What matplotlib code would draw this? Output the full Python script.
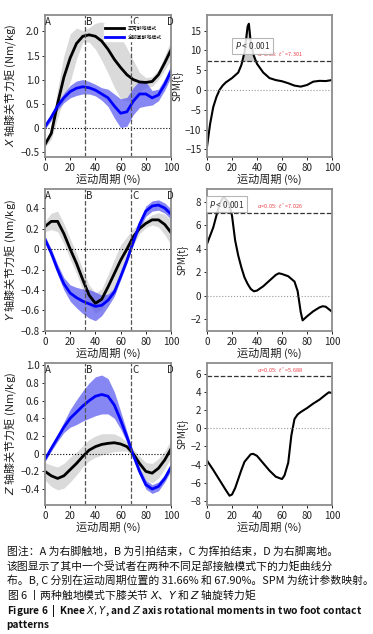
import numpy as np
import matplotlib
matplotlib.use("Agg")
import matplotlib.pyplot as plt
from matplotlib.ticker import FuncFormatter

plt.rcParams['font.family'] = ['Noto Sans CJK SC', 'DejaVu Sans']
plt.rcParams['axes.unicode_minus'] = True
plt.rcParams['mathtext.fontset'] = 'dejavusans'

# cycle position (%)
pct = [0, 5, 10, 15, 20, 25, 30, 35, 40, 45, 50, 55, 60, 65, 70, 75, 80, 85, 90, 95, 100]
event_b = 31.66
event_c = 67.90
labels = ["正常触地模式", "全脚掌触地模式"]

# X axis moment (Nm/kg)
x_normal = [-0.35, -0.12, 0.5, 1.05, 1.45, 1.75, 1.9, 1.93, 1.9, 1.8, 1.63, 1.42, 1.25, 1.1, 1.0, 0.95, 0.94, 0.96, 1.1, 1.35, 1.62]
x_normal_sd = [0.05, 0.12, 0.3, 0.45, 0.5, 0.32, 0.12, 0.15, 0.27, 0.4, 0.5, 0.58, 0.65, 0.55, 0.4, 0.2, 0.1, 0.1, 0.1, 0.15, 0.2]
x_full = [0.02, 0.22, 0.45, 0.62, 0.75, 0.82, 0.85, 0.83, 0.78, 0.7, 0.62, 0.45, 0.3, 0.33, 0.55, 0.7, 0.7, 0.62, 0.68, 0.9, 1.18]
x_full_sd = [0.05, 0.07, 0.08, 0.1, 0.13, 0.15, 0.15, 0.13, 0.12, 0.13, 0.18, 0.25, 0.3, 0.3, 0.28, 0.28, 0.25, 0.15, 0.12, 0.12, 0.12]

# Y axis moment
y_normal = [0.22, 0.27, 0.27, 0.15, 0.0, -0.14, -0.3, -0.45, -0.53, -0.49, -0.37, -0.24, -0.11, 0.0, 0.12, 0.2, 0.25, 0.285, 0.285, 0.24, 0.16]
y_normal_sd = [0.05, 0.08, 0.1, 0.1, 0.1, 0.1, 0.1, 0.1, 0.1, 0.1, 0.12, 0.14, 0.15, 0.12, 0.08, 0.05, 0.04, 0.05, 0.07, 0.1, 0.12]
y_full = [0.095, -0.04, -0.2, -0.34, -0.43, -0.475, -0.51, -0.535, -0.56, -0.55, -0.5, -0.42, -0.27, -0.11, 0.07, 0.24, 0.37, 0.42, 0.43, 0.4, 0.34]
y_full_sd = [0.03, 0.04, 0.05, 0.06, 0.08, 0.1, 0.12, 0.14, 0.14, 0.1, 0.06, 0.04, 0.03, 0.03, 0.03, 0.04, 0.05, 0.05, 0.05, 0.05, 0.05]

# Z axis moment
z_normal = [-0.2, -0.25, -0.28, -0.25, -0.18, -0.11, -0.03, 0.04, 0.08, 0.105, 0.117, 0.124, 0.11, 0.08, 0.0, -0.11, -0.2, -0.22, -0.165, -0.07, 0.056]
z_normal_sd = [0.1, 0.12, 0.13, 0.14, 0.14, 0.13, 0.12, 0.12, 0.12, 0.12, 0.11, 0.1, 0.08, 0.05, 0.05, 0.08, 0.1, 0.11, 0.11, 0.1, 0.1]
z_full = [-0.065, 0.06, 0.18, 0.3, 0.4, 0.47, 0.54, 0.6, 0.65, 0.67, 0.65, 0.55, 0.38, 0.19, -0.015, -0.2, -0.35, -0.4, -0.37, -0.28, -0.15]
z_full_sd = [0.02, 0.03, 0.04, 0.06, 0.1, 0.14, 0.17, 0.2, 0.22, 0.22, 0.2, 0.15, 0.1, 0.06, 0.03, 0.04, 0.05, 0.05, 0.05, 0.04, 0.04]

# SPM{t}
spm_x_pct = [0, 2.5, 5, 7.5, 10, 12.5, 15, 20, 25, 27.5, 30, 32.5, 33.5, 35, 37.5, 40, 45, 50, 55, 60, 65, 70, 75, 80, 85, 90, 95, 100]
spm_x = [-14.3, -8.5, -4.3, -1.8, 0.0, 1.1, 1.9, 3.0, 4.4, 6.3, 9.5, 16.0, 16.7, 12.0, 8.6, 6.6, 4.4, 3.0, 2.5, 2.2, 1.7, 1.1, 0.85, 1.25, 2.1, 2.3, 2.25, 2.5]
spm_y_pct = [0, 2.5, 5, 7.5, 10, 12.5, 14, 15, 17.5, 20, 22.5, 25, 27.5, 30, 32.5, 35, 37.5, 40, 45, 50, 55, 57.5, 60, 65, 70, 72.5, 75, 76.5, 80, 85, 90, 92.5, 95, 100]
spm_y = [4.4, 5.1, 5.8, 6.8, 7.8, 8.3, 8.35, 8.2, 7.9, 6.8, 4.7, 3.4, 2.4, 1.55, 1.0, 0.57, 0.37, 0.43, 0.8, 1.28, 1.76, 1.9, 1.84, 1.65, 1.2, 0.4, -1.4, -2.1, -1.76, -1.33, -1.0, -0.9, -0.94, -1.36]
spm_z_pct = [0, 5, 10, 15, 18, 20, 22.5, 25, 27.5, 30, 35, 37, 40, 45, 50, 55, 60, 62, 65, 67.5, 70, 72.5, 75, 80, 85, 90, 95, 97.5, 100]
spm_z = [-3.57, -4.6, -5.7, -6.8, -7.43, -7.3, -6.6, -5.6, -4.6, -3.7, -2.87, -2.83, -3.05, -3.86, -4.67, -5.34, -5.6, -5.2, -3.8, -0.8, 1.0, 1.5, 1.77, 2.2, 2.7, 3.13, 3.68, 3.94, 3.86]
thresholds = [7.301, 7.026, 5.688]
alpha_txt = ["0.05", "0.05", "0.05"]

axis_names = ["X", "Y", "Z"]
left_ylims = [(-0.61, 2.35), (-0.8, 0.59), (-0.58, 1.03)]
left_yticks = [[-0.5, 0, 0.5, 1.0, 1.5, 2.0],
               [-0.8, -0.6, -0.4, -0.2, 0, 0.2, 0.4],
               [-0.4, -0.2, 0, 0.2, 0.4, 0.6, 0.8, 1.0]]
right_ylims = [(-16.9, 19.0), (-3.0, 9.1), (-8.45, 7.2)]
right_yticks = [[-15, -10, -5, 0, 5, 10, 15], [-2, 0, 2, 4, 6, 8], [-8, -6, -4, -2, 0, 2, 4, 6]]

means = [(x_normal, x_normal_sd, x_full, x_full_sd),
         (y_normal, y_normal_sd, y_full, y_full_sd),
         (z_normal, z_normal_sd, z_full, z_full_sd)]
spms = [(spm_x_pct, spm_x), (spm_y_pct, spm_y), (spm_z_pct, spm_z)]

fig = plt.figure(figsize=(3.73, 6.34), dpi=100)
rows_bottom = [0.7524, 0.478, 0.2035]
row_h = 0.2245
frame_col = "#8c8c8c"


def fmt_left(v, pos):
    if abs(v) < 1e-9:
        return "0"
    return ("%.1f" % v).replace("-", "\u2212")


def style(ax):
    for s in ax.spines.values():
        s.set_color(frame_col)
        s.set_linewidth(1.3)
    ax.tick_params(labelsize=7, length=2.5, width=0.7, pad=1.5, colors="#222222")
    ax.set_xlim(0, 100)
    ax.set_xticks([0, 20, 40, 60, 80, 100])
    ax.set_xlabel("运动周期 (%)", fontsize=8, labelpad=1, color="#222222")


for i in range(3):
    p = np.array(pct)
    m1, s1, m2, s2 = [np.array(a) for a in means[i]]

    ax = fig.add_axes([0.1206, rows_bottom[i], 0.338, row_h])
    style(ax)
    ax.fill_between(p, m1 - s1, m1 + s1, color="#d4d4d4", alpha=0.85, lw=0)
    ax.fill_between(p, m2 - s2, m2 + s2, color="#5555f0", alpha=0.7, lw=0)
    ax.plot(p, m1, color="black", lw=2, label=labels[0])
    ax.plot(p, m2, color="#0000ff", lw=2, label=labels[1])
    ax.axhline(0, color="black", ls=":", lw=0.8)
    ax.axvline(event_b, color="#555555", ls="--", lw=0.9)
    ax.axvline(event_c, color="#555555", ls="--", lw=0.9)
    ax.set_ylim(*left_ylims[i])
    ax.set_yticks(left_yticks[i])
    ax.yaxis.set_major_formatter(FuncFormatter(fmt_left))
    for lab, xp in zip(["A", "B", "C", "D"], [0.3, event_b + 1.2, event_c + 1.2, 96.5]):
        ax.text(xp, 0.985, lab, transform=ax.get_xaxis_transform(), fontsize=7,
                va="top", ha="left", color="#222222")
    ax.set_ylabel("$%s$ 轴膝关节力矩 (Nm/kg)" % axis_names[i], fontsize=8, labelpad=2, color="#222222")
    if i == 0:
        ax.legend(loc="upper right", bbox_to_anchor=(0.96, 0.95), fontsize=3.5, frameon=True,
                  edgecolor="white", framealpha=1, handlelength=3.9, borderpad=0.3, labelspacing=0.8)

    sx, sy = spms[i]
    sx = np.array(sx)
    sy = np.array(sy)
    ar = fig.add_axes([0.555, rows_bottom[i], 0.335, row_h])
    style(ar)
    th = thresholds[i]
    ar.fill_between(sx, th, sy, where=sy > th, interpolate=True, color="#c8c8c8", lw=0)
    ar.plot(sx, sy, color="black", lw=1.5)
    ar.axhline(th, color="#333333", ls="--", lw=0.9)
    ar.axhline(0, color="#999999", ls=":", lw=0.8)
    ar.set_ylim(*right_ylims[i])
    ar.set_yticks(right_yticks[i])
    ar.yaxis.set_major_formatter(FuncFormatter(lambda v, pos: ("%d" % v).replace("-", "\u2212")))
    ar.set_ylabel("SPM{t}", fontsize=7, labelpad=2, color="#222222")
    ar.text(40, th + 0.12 * (right_ylims[i][1] - right_ylims[i][0]) * 0.1, r"$\alpha$=%s:  $t^*$=%.3f" % (alpha_txt[i], th),
            fontsize=4, color="#e8404a", ha="left", va="bottom")
    if i == 0:
        ar.text(22, 11.2, "$\\bf{\\it{P}}$ < 0.001", fontsize=6, color="#333333", ha="left", va="center",
                bbox=dict(boxstyle="square,pad=0.3", fc="white", ec="#aaaaaa", lw=0.8, alpha=0.85))
    if i == 1:
        ar.text(1.5, 7.75, "$\\bf{\\it{P}}$ < 0.001", fontsize=6, color="#333333", ha="left", va="center",
                bbox=dict(boxstyle="square,pad=0.3", fc="white", ec="#aaaaaa", lw=0.8, alpha=0.85))

# caption
cap_x = 0.018
fig.text(cap_x, 1 - 552 / 634, "图注：A 为右脚触地，B 为引拍结束，C 为挥拍结束，D 为右脚离地。",
         fontsize=7.8, va="center", color="#111111")
fig.text(cap_x, 1 - 566 / 634, "该图显示了其中一个受试者在两种不同足部接触模式下的力矩曲线分",
         fontsize=7.8, va="center", color="#111111")
fig.text(cap_x, 1 - 580 / 634, "布。B, C 分别在运动周期位置的 31.66% 和 67.90%。SPM 为统计参数映射。",
         fontsize=7.8, va="center", color="#111111")
fig.text(cap_x, 1 - 595 / 634, "图 6 丨两种触地模式下膝关节 $X$、$Y$ 和 $Z$ 轴旋转力矩",
         fontsize=7.8, va="center", color="#111111")
fig.text(cap_x, 1 - 611 / 634, "Figure 6  |  Knee $\\bf{\\it{X, Y}}$, and $\\bf{\\it{Z}}$ axis rotational moments in two foot contact",
         fontsize=7.3, va="center", fontweight="bold", color="#111111")
fig.text(cap_x, 1 - 625 / 634, "patterns", fontsize=7.3, va="center", fontweight="bold", color="#111111")

fig.savefig("out.png", dpi=100)
